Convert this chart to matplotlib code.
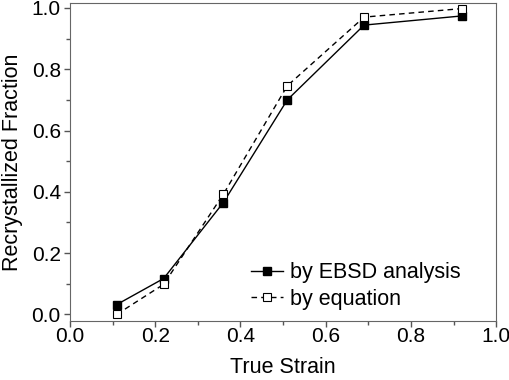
import matplotlib
matplotlib.use("Agg")
import matplotlib.pyplot as plt
from matplotlib.ticker import MultipleLocator

strain = [0.11, 0.22, 0.36, 0.51, 0.69, 0.92]
frac_ebsd = [0.032, 0.117, 0.365, 0.70, 0.944, 0.974]
frac_eq = [0.0, 0.098, 0.392, 0.746, 0.970, 0.998]

plt.rcParams["font.family"] = ["Liberation Sans", "DejaVu Sans"]
FS = 15.5

fig = plt.figure(figsize=(5.1, 3.8), dpi=100)
ax = fig.add_axes([0.137, 0.155, 0.836, 0.837])

ax.plot(strain, frac_ebsd, "-", color="black", lw=1.0, marker="s", ms=6,
        mfc="black", mec="black", label="by EBSD analysis")
ax.plot(strain, frac_eq, "--", color="black", lw=1.0, marker="s", ms=6,
        mfc="white", mec="black", mew=0.8, dashes=(4, 3), label="by equation")

ax.set_xlim(0, 1.0)
ax.set_ylim(-0.022, 1.016)
ax.xaxis.set_major_locator(MultipleLocator(0.2))
ax.xaxis.set_minor_locator(MultipleLocator(0.1))
ax.yaxis.set_major_locator(MultipleLocator(0.2))
ax.yaxis.set_minor_locator(MultipleLocator(0.1))
ax.tick_params(which="both", direction="out", top=False, right=False,
               labelsize=15, color="#555555", width=1.0)
ax.tick_params(which="major", length=4.5)
ax.tick_params(which="minor", length=3)
ax.tick_params(axis="x", pad=0)
ax.tick_params(axis="y", pad=2)
for s in ax.spines.values():
    s.set_color("#666666")

ax.set_xlabel("True Strain", fontsize=FS, labelpad=8)
ax.set_ylabel("Recrystallized Fraction", fontsize=FS, labelpad=6)

ax.legend(loc="lower right", bbox_to_anchor=(0.961, -0.025), frameon=False,
          fontsize=FS, handlelength=1.5, handletextpad=0.3, labelspacing=0.25)

fig.savefig("out.png", dpi=100)
